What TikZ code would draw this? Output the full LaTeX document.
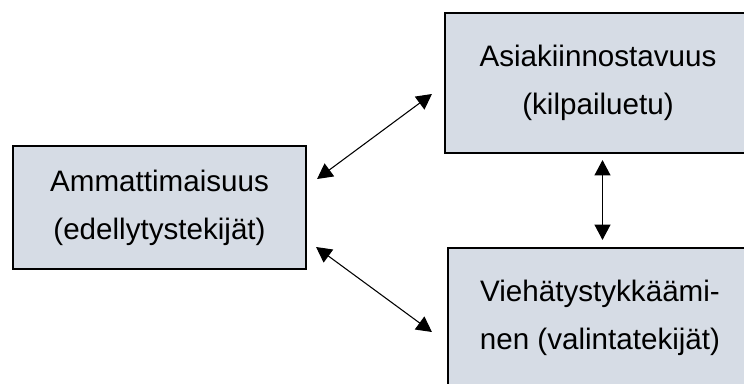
\documentclass[tikz,border=0pt]{standalone}
\usepackage{fontspec}
\setmainfont{Liberation Sans}
\definecolor{factorfill}{RGB}{214,220,229}
\usetikzlibrary{arrows.meta,positioning,calc}

\begin{document}
\begin{tikzpicture}[x=0.75pt,y=-0.75pt,
  factor/.style={draw,line width=1.6pt,fill=factorfill,inner sep=0pt,align=center,
    font=\fontsize{22.2}{36}\selectfont},
  link/.style={{Triangle[length=11.5pt,width=12pt]}-{Triangle[length=11.5pt,width=12pt]},
    line width=0.8pt}
]
  \useasboundingbox (0,0) rectangle (744,383);
  \clip (0,0) rectangle (744,383);
  % Tekijat
  \node[factor,minimum width=219.75pt,minimum height=92.25pt] (amm) at (159.5,207.5)
    {Ammattimaisuus\\(edellytystekijät)};
  \node[factor,minimum width=229.5pt,minimum height=105pt] (kil) at (598,83)
    {Asiakiinnostavuus\\(kilpailuetu)};
  \node[factor,minimum width=228pt,minimum height=105pt] (val) at (600,318)
    {Viehätystykkäämi-\\nen (valintatekijät)};
  % Yhteydet
  \draw[link] ($(amm.east)+(10,-28.5)$) -- ($(kil.west)+(-12,11)$);
  \draw[link] ($(amm.east)+(9,39.5)$) -- ($(val.west)+(-15,14)$);
  \draw[link] ($(kil.south)+(4.5,6)$) -- ($(val.north)+(2.5,-7)$);
\end{tikzpicture}
\end{document}
